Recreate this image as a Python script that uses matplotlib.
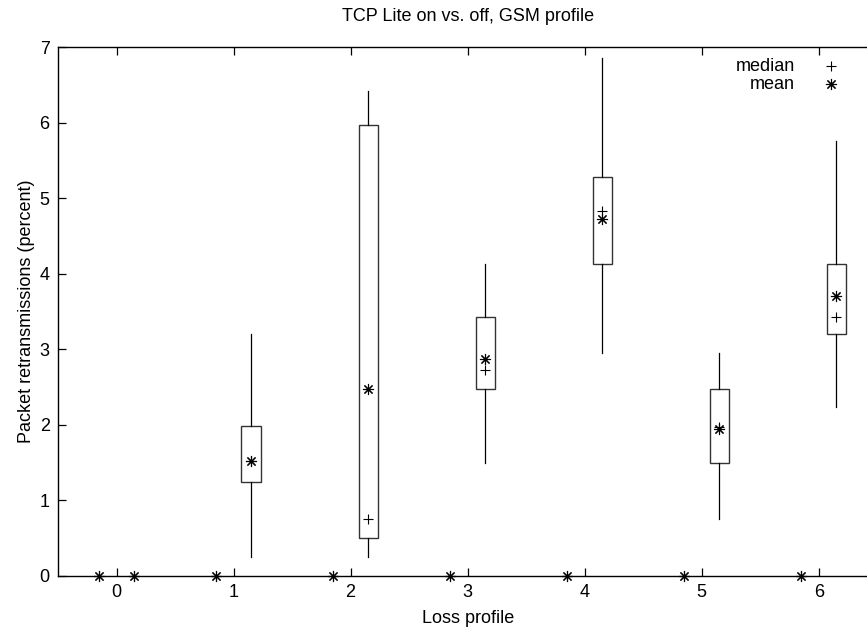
import numpy as np
import matplotlib
matplotlib.use("Agg")
import matplotlib.pyplot as plt

plt.rcParams['font.family'] = ['Liberation Sans', 'DejaVu Sans']

# loss profiles and the two series (off at x-0.15, on at x+0.15)
profiles = [0, 1, 2, 3, 4, 5, 6]
off_values = [0, 0, 0, 0, 0, 0, 0]

on_whisker_low = [0, 0.25, 0.25, 1.50, 2.95, 0.76, 2.23]
on_box_low = [0, 1.25, 0.50, 2.48, 4.13, 1.50, 3.20]
on_box_high = [0, 1.98, 5.97, 3.43, 5.28, 2.47, 4.13]
on_whisker_high = [0, 3.20, 6.42, 4.13, 6.85, 2.95, 5.75]
on_median = [0, 1.52, 0.75, 2.72, 4.83, 1.97, 3.43]
on_mean = [0, 1.52, 2.48, 2.87, 4.72, 1.95, 3.70]

OFFSET = 0.15
BOX_W = 0.165
STAR = (8, 2, 0)
FS = 13

fig = plt.figure(figsize=(8.67, 6.31), dpi=100)
ax = fig.add_axes([0.0669, 0.0872, 0.945, 0.8383])

x = np.array(profiles, dtype=float)
x_off = x - OFFSET
x_on = x + OFFSET

# boxes for the "on" series (profile 0 is all zero, drawn as points only)
for i in range(1, len(profiles)):
    xc = x_on[i]
    ax.add_patch(plt.Rectangle((xc - BOX_W / 2, on_box_low[i]), BOX_W,
                               on_box_high[i] - on_box_low[i],
                               fill=False, edgecolor='#333333', lw=1.0, zorder=3))
    ax.plot([xc, xc], [on_box_high[i], on_whisker_high[i]], color='black', lw=0.9, zorder=3)
    ax.plot([xc, xc], [on_whisker_low[i], on_box_low[i]], color='black', lw=0.9, zorder=3)

ax.plot(x_on, on_median, linestyle='none', marker='+', markersize=7,
        color='black', mew=0.8, zorder=4, clip_on=False)
ax.plot(x_on, on_mean, linestyle='none', marker=STAR, markersize=8,
        color='black', mew=0.8, zorder=4, clip_on=False)
ax.plot(x_off, off_values, linestyle='none', marker=STAR, markersize=8,
        color='black', mew=0.8, zorder=4, clip_on=False)
ax.plot(x_off, off_values, linestyle='none', marker='+', markersize=7,
        color='black', mew=0.8, zorder=4, clip_on=False)

ax.set_xlim(-0.5, 6.5)
ax.set_ylim(0, 7)
ax.set_xticks(profiles)
ax.set_yticks(range(0, 8))
ax.tick_params(direction='in', length=6, width=0.9, top=True, right=True,
               labelsize=FS, pad=6, colors='black')
for s in ax.spines.values():
    s.set_linewidth(1.0)

ax.set_title('TCP Lite on vs. off, GSM profile', fontsize=FS, pad=19)
ax.set_xlabel('Loss profile', fontsize=FS, labelpad=6)
ax.set_ylabel('Packet retransmissions (percent)', fontsize=FS, labelpad=3)

# gnuplot style key: right-aligned text, sample point to the right
key_entries = [('median', '+', 7), ('mean', STAR, 8)]
for row, (name, mk, ms) in enumerate(key_entries):
    ky = 0.964 - row * 0.034
    ax.text(0.899, ky, name, transform=ax.transAxes, ha='right', va='center',
            fontsize=FS)
    ax.plot([0.9433], [ky], transform=ax.transAxes, linestyle='none', marker=mk,
            markersize=ms, color='black', mew=0.8, clip_on=False)

fig.savefig('out.png', dpi=100)
